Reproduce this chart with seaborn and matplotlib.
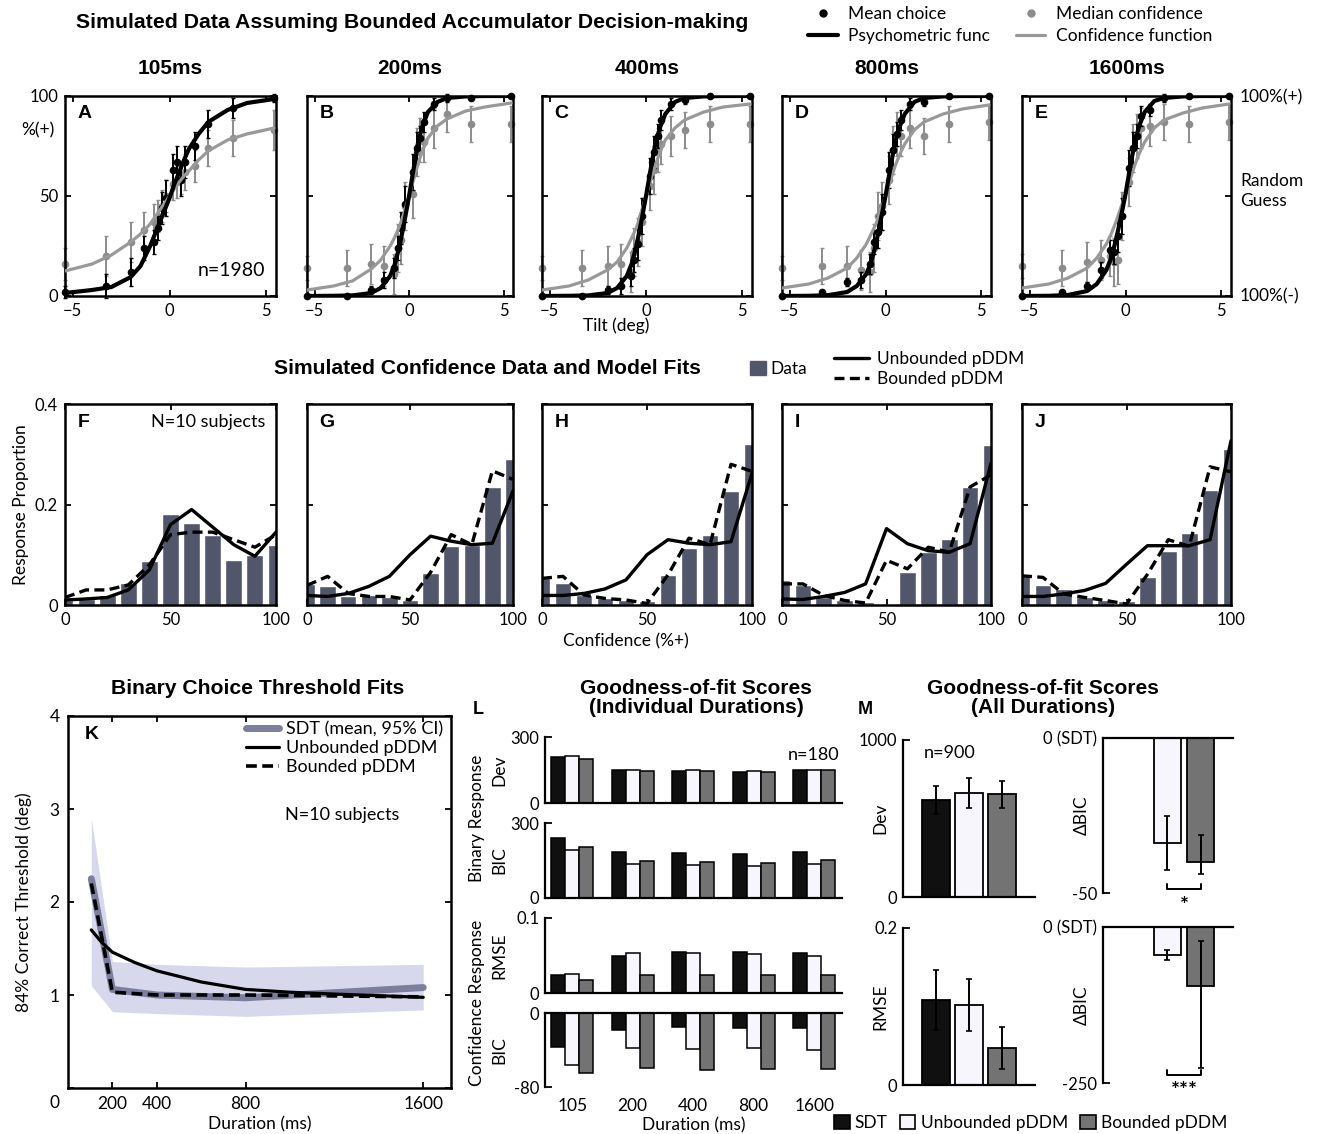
import matplotlib
matplotlib.use('Agg')
import pandas as pd
import matplotlib.pyplot as plt
import seaborn as sns
from matplotlib.lines import Line2D
from matplotlib.patches import Patch

# ---------------- data ----------------
durations = ['105ms', '200ms', '400ms', '800ms', '1600ms']
top_letters = ['A', 'B', 'C', 'D', 'E']
mid_letters = ['F', 'G', 'H', 'I', 'J']

tilt = [-5.4, -3.3, -2.0, -1.3, -0.8, -0.6, -0.4, -0.2, 0.2, 0.4, 0.6, 0.8, 1.3, 2.0, 3.3, 5.4]
mean_choice = [
    [2, 5, 12, 24, 27, 34, 44, 49, 63, 67, 58, 67, 75, 86, 94, 99],
    [0, 0, 3, 8, 14, 24, 34, 46, 62, 74, 79, 87, 96, 99, 99, 100],
    [0, 0, 3, 5, 10, 18, 26, 40, 60, 72, 80, 88, 96, 98, 100, 100],
    [0, 2, 7, 8, 16, 27, 32, 42, 63, 73, 81, 88, 96, 97, 100, 100],
    [0, 2, 5, 13, 23, 22, 30, 40, 64, 74, 80, 90, 93, 99, 100, 100],
]
choice_err = [
    [3, 6, 7, 6, 6, 6, 8, 9, 8, 8, 8, 8, 7, 7, 5, 2],
    [1, 1, 2, 4, 5, 6, 8, 9, 9, 8, 6, 5, 3, 2, 1, 1],
    [1, 1, 2, 4, 5, 6, 8, 9, 9, 8, 6, 5, 3, 2, 1, 1],
    [1, 1, 2, 4, 5, 6, 8, 9, 9, 8, 6, 5, 3, 2, 1, 1],
    [1, 1, 2, 4, 5, 6, 8, 9, 9, 8, 6, 5, 3, 2, 1, 1],
]
median_conf = [
    [16, 20, 27, 33, 37, 40, 45, 50, 56, 57, 59, 62, 65, 74, 79, 83],
    [14, 14, 16, 15, 11, 24, 28, 45, 51, 72, 78, 77, 84, 91, 86, 86],
    [14, 14, 15, 16, 12, 22, 27, 37, 55, 63, 73, 76, 80, 83, 86, 86],
    [14, 15, 15, 13, 12, 24, 40, 45, 58, 73, 81, 80, 84, 80, 86, 87],
    [15, 14, 17, 18, 20, 17, 18, 40, 57, 74, 80, 84, 85, 87, 86, 87],
]
conf_err = [
    [8, 10, 10, 9, 9, 8, 8, 8, 8, 8, 8, 9, 8, 9, 9, 10],
    [6, 9, 10, 10, 10, 12, 12, 12, 12, 12, 11, 10, 10, 9, 9, 9],
    [6, 9, 10, 10, 10, 12, 12, 12, 12, 12, 11, 10, 10, 9, 9, 9],
    [6, 9, 10, 10, 10, 12, 12, 12, 12, 12, 11, 10, 10, 9, 9, 9],
    [6, 9, 10, 10, 10, 12, 12, 12, 12, 12, 11, 10, 10, 9, 9, 9],
]
tilt_fit = [-5.4, -4, -3, -2, -1.5, -1, -0.75, -0.5, -0.25, 0, 0.25, 0.5, 0.75, 1, 1.5, 2, 3, 4, 5.4]
psych_fit = [
    [1.5, 3, 4.5, 9.5, 15, 25, 31, 37, 43, 49, 56, 62, 68, 73.5, 81, 87, 93, 96.5, 98.5],
    [0, 0.1, 0.3, 1.5, 4, 10, 16, 25, 37, 50, 64, 78, 86, 92, 97, 99, 99.8, 100, 100],
    [0, 0.1, 0.3, 1.5, 4, 10, 16, 25, 37, 50, 64, 77, 85, 91, 97, 99, 99.8, 100, 100],
    [0, 0.1, 0.4, 2, 5, 11, 17, 26, 38, 50, 64, 77, 85, 91, 97, 99, 99.8, 100, 100],
    [0, 0.1, 0.5, 2.5, 6, 13, 19, 28, 39, 51, 65, 78, 86, 92, 97.5, 99, 99.8, 100, 100],
]
conf_fit = [
    [12.5, 16, 20.5, 27, 31, 36, 39.5, 43, 46.5, 50, 53.5, 57, 60, 62.5, 68, 72.5, 78, 81, 84],
    [3, 5, 7.5, 13.5, 18, 25, 29.5, 35, 42, 50, 58.5, 67, 73.5, 79, 85, 88.5, 92.5, 94.5, 96.5],
    [3, 5, 8, 13, 17, 24, 29, 34, 42, 50, 58, 66, 72.5, 78, 84, 88, 92, 94.5, 96],
    [4, 6, 9, 14, 19, 26, 31, 36, 43, 50, 57.5, 65, 71, 76, 83, 87, 91, 93.5, 95.5],
    [4, 6, 9, 14, 19, 26, 31, 37, 44, 51, 58.5, 66, 72, 77, 84, 88, 91.5, 94, 96],
]

conf_bins = [0, 10, 20, 30, 40, 50, 60, 70, 80, 90, 100]
data_hist = [
    [0.010, 0.012, 0.020, 0.043, 0.087, 0.181, 0.163, 0.140, 0.090, 0.100, 0.120],
    [0.041, 0.037, 0.017, 0.019, 0.015, 0.010, 0.063, 0.117, 0.119, 0.235, 0.290],
    [0.053, 0.043, 0.019, 0.013, 0.010, 0.007, 0.060, 0.114, 0.139, 0.226, 0.320],
    [0.050, 0.040, 0.015, 0.009, 0.005, 0.000, 0.066, 0.106, 0.132, 0.235, 0.318],
    [0.058, 0.039, 0.032, 0.015, 0.009, 0.007, 0.055, 0.107, 0.143, 0.229, 0.311],
]
unbounded_fit = [
    [0.010, 0.012, 0.015, 0.030, 0.070, 0.160, 0.190, 0.155, 0.120, 0.097, 0.145],
    [0.019, 0.017, 0.023, 0.037, 0.057, 0.100, 0.137, 0.127, 0.120, 0.123, 0.227],
    [0.019, 0.019, 0.023, 0.032, 0.050, 0.100, 0.130, 0.123, 0.120, 0.126, 0.262],
    [0.012, 0.011, 0.017, 0.025, 0.042, 0.152, 0.122, 0.108, 0.105, 0.122, 0.282],
    [0.017, 0.017, 0.022, 0.029, 0.043, 0.081, 0.118, 0.118, 0.118, 0.130, 0.327],
]
bounded_fit = [
    [0.015, 0.030, 0.030, 0.040, 0.080, 0.140, 0.145, 0.145, 0.130, 0.115, 0.140],
    [0.039, 0.057, 0.023, 0.017, 0.017, 0.010, 0.065, 0.140, 0.120, 0.267, 0.250],
    [0.053, 0.057, 0.020, 0.013, 0.010, 0.003, 0.060, 0.133, 0.120, 0.280, 0.266],
    [0.042, 0.042, 0.019, 0.009, 0.004, 0.089, 0.072, 0.115, 0.105, 0.235, 0.259],
    [0.058, 0.055, 0.022, 0.015, 0.009, 0.002, 0.061, 0.130, 0.117, 0.275, 0.265],
]

durations_ms = [105, 200, 400, 800, 1600]
sdt_mean = [2.25, 1.06, 1.00, 0.97, 1.08]
sdt_lo = [1.10, 0.82, 0.80, 0.77, 0.84]
sdt_hi = [2.90, 1.36, 1.33, 1.30, 1.33]
unb_x = [105, 150, 200, 300, 400, 600, 800, 1000, 1200, 1600]
unb_y = [1.70, 1.57, 1.46, 1.35, 1.26, 1.14, 1.06, 1.03, 1.01, 0.975]
bnd_y = [2.20, 1.03, 1.00, 1.00, 0.98]

models = ['SDT', 'Unbounded pDDM', 'Bounded pDDM']
l_durations = ['105', '200', '400', '800', '1600']
dev_sdt = [210, 150, 147, 142, 150]
dev_unb = [212, 152, 148, 145, 150]
dev_bnd = [198, 147, 147, 143, 150]
bic_sdt = [240, 183, 180, 176, 184]
bic_unb = [193, 137, 133, 129, 137]
bic_bnd = [204, 147, 143, 140, 151]
rmse_sdt = [0.0236, 0.050, 0.0547, 0.0547, 0.053]
rmse_unb = [0.0258, 0.053, 0.054, 0.052, 0.050]
rmse_bnd = [0.0178, 0.0236, 0.0236, 0.024, 0.024]
cbic_sdt = [-37, -18, -15, -16, -16]
cbic_unb = [-56, -38, -39, -38, -40]
cbic_bnd = [-65, -59, -62, -60, -60]

m_dev = [617, 660, 653]
m_dev_err = [90, 95, 85]
m_rmse = [0.108, 0.102, 0.047]
m_rmse_err = [0.038, 0.033, 0.027]
dbic_binary = [0, -33.9, -40.1]
dbic_binary_lo = [0, 8.6, 3.7]
dbic_binary_hi = [0, 8.6, 8.9]
dbic_conf = [0, -44.3, -95]
dbic_conf_lo = [0, 8, 131]
dbic_conf_hi = [0, 8, 72]

# ---------------- style ----------------
sns.set_theme(style='white')
plt.rcParams['font.family'] = ['Lato', 'DejaVu Sans']
plt.rcParams.update({
    'axes.edgecolor': 'black', 'text.color': 'black', 'axes.labelcolor': 'black',
    'xtick.color': 'black', 'ytick.color': 'black', 'font.size': 12,
})
BOLD = dict(family=['Liberation Sans', 'DejaVu Sans'], weight='bold')

bar_col = '#52566a'
gray_pt = '#8c8c8c'
gray_line = '#999999'
model_colors = {'SDT': '#101010', 'Unbounded pDDM': '#f6f6fc', 'Bounded pDDM': '#737373'}

W, H = 1317, 1134
fig = plt.figure(figsize=(W / 100, H / 100), dpi=100)


def add_ax(x0, y0, x1, y1):
    return fig.add_axes([x0 / W, 1 - y1 / H, (x1 - x0) / W, (y1 - y0) / H])


def ftext(x, y, s, **kw):
    kw.setdefault('ha', 'center')
    kw.setdefault('va', 'center')
    fig.text(x / W, 1 - y / H, s, **kw)


def box_style(ax):
    for s in ax.spines.values():
        s.set_visible(True)
        s.set_linewidth(1.8)
        s.set_color('black')
    ax.tick_params(direction='in', top=True, right=True, bottom=True, left=True,
                   length=4, width=1.3, labelsize=12, pad=5)


cols = [(65, 276), (307, 513), (542, 752), (782, 991), (1022, 1231)]

# ---------------- row 1: psychometric / confidence functions ----------------
for i, (x0, x1) in enumerate(cols):
    ax = add_ax(x0, 96, x1, 296)
    ax.errorbar(tilt, median_conf[i], yerr=conf_err[i], fmt='o', color=gray_pt, ms=4.5,
                elinewidth=1.4, capsize=1.5, zorder=2, clip_on=False)
    ax.errorbar(tilt, mean_choice[i], yerr=choice_err[i], fmt='o', color='black', ms=4.5,
                elinewidth=1.4, capsize=1.5, zorder=3, clip_on=False)
    sns.lineplot(x=tilt_fit, y=conf_fit[i], ax=ax, color=gray_line, lw=2.3, zorder=4)
    sns.lineplot(x=tilt_fit, y=psych_fit[i], ax=ax, color='black', lw=3, zorder=5)
    ax.set_xlim(-5.4, 5.5)
    ax.set_ylim(0, 100)
    ax.set_xticks([-5, 0, 5])
    ax.set_xticklabels(['\u22125', '0', '5'])
    ax.set_yticks([0, 50, 100])
    box_style(ax)
    if i > 0:
        ax.set_yticklabels([])
    ax.text(0.06, 0.91, top_letters[i], transform=ax.transAxes, fontsize=14, va='center', **BOLD)
    ftext((x0 + x1) / 2, 68, durations[i], fontsize=15, **BOLD)

ftext(412, 23, 'Simulated Data Assuming Bounded Accumulator Decision-making', fontsize=15.3, **BOLD)
ftext(265, 271, 'n=1980', ha='right', fontsize=14)
ftext(38, 130, '%(+)', fontsize=12.5)
ftext(616, 326, 'Tilt (deg)', fontsize=12.5)
ftext(1240, 97, '100%(+)', ha='left', fontsize=12.5)
ftext(1240, 191, 'Random\nGuess', ha='left', fontsize=12.5, linespacing=1.3)
ftext(1240, 296, '100%(-)', ha='left', fontsize=12.5)

top_handles = [
    Line2D([], [], marker='o', color='black', ls='none', ms=5),
    Line2D([], [], color='black', lw=3),
    Line2D([], [], marker='o', color=gray_pt, ls='none', ms=5),
    Line2D([], [], color=gray_line, lw=2.3),
]
fig.legend(top_handles, ['Mean choice', 'Psychometric func', 'Median confidence', 'Confidence function'],
           ncol=2, loc='upper left', bbox_to_anchor=(808 / W, 1 - 6 / H), frameon=False,
           fontsize=12.5, handlelength=1.7, labelspacing=0.35, columnspacing=1.5,
           handletextpad=0.6, borderpad=0, borderaxespad=0)

# ---------------- row 2: confidence histograms ----------------
for i, (x0, x1) in enumerate(cols):
    ax = add_ax(x0, 404, x1, 605)
    sns.barplot(x=conf_bins, y=data_hist[i], ax=ax, native_scale=True, width=0.8,
                color=bar_col, saturation=1, errorbar=None, zorder=1)
    sns.lineplot(x=conf_bins, y=unbounded_fit[i], ax=ax, color='black', lw=2.4, zorder=3)
    sns.lineplot(x=conf_bins, y=bounded_fit[i], ax=ax, color='black', lw=2.4,
                 linestyle=(0, (3, 1.6)), zorder=3)
    ax.set_xlim(0, 100)
    ax.set_ylim(0, 0.4)
    ax.set_xticks([0, 50, 100])
    ax.set_xticklabels(['0', '50', '100'])
    ax.set_yticks([0, 0.2, 0.4])
    ax.set_yticklabels(['0', '0.2', '0.4'])
    box_style(ax)
    ax.set_xlabel('')
    ax.set_ylabel('')
    if i > 0:
        ax.set_yticklabels([])
    else:
        ax.set_ylabel('Response Proportion', fontsize=12.5, labelpad=4)
        ax.text(0.95, 0.91, 'N=10 subjects', transform=ax.transAxes, ha='right', va='center', fontsize=13)
    ax.text(0.06, 0.91, mid_letters[i], transform=ax.transAxes, fontsize=14, va='center', **BOLD)

ftext(487, 369, 'Simulated Confidence Data and Model Fits', fontsize=15.2, **BOLD)
ftext(626, 641, 'Confidence (%+)', fontsize=12.5)
fig.legend([Patch(color=bar_col)], ['Data'], loc='center left', bbox_to_anchor=(750 / W, 1 - 369 / H),
           frameon=False, fontsize=12.5, handlelength=0.9, handleheight=0.9, handletextpad=0.3,
           borderpad=0, borderaxespad=0)
fig.legend([Line2D([], [], color='black', lw=2.4), Line2D([], [], color='black', lw=2.4, ls=(0, (3, 1.6)))],
           ['Unbounded pDDM', 'Bounded pDDM'], loc='center left', bbox_to_anchor=(834 / W, 1 - 369 / H),
           frameon=False, fontsize=12.5, handlelength=2.0, handletextpad=0.5, labelspacing=0.25,
           borderpad=0, borderaxespad=0)

# ---------------- K: thresholds ----------------
axk = add_ax(68, 716, 451, 1088)
axk.fill_between(durations_ms, sdt_lo, sdt_hi, color='#d2d2ea', alpha=0.85, lw=0, zorder=1)
sns.lineplot(x=durations_ms, y=sdt_mean, ax=axk, color='#7b7e9c', lw=5, zorder=2)
sns.lineplot(x=unb_x, y=unb_y, ax=axk, color='black', lw=2.3, zorder=3)
sns.lineplot(x=durations_ms, y=bnd_y, ax=axk, color='black', lw=2.6, linestyle=(0, (3, 1.5)), zorder=4)
axk.set_xlim(0, 1725)
axk.set_ylim(0, 4)
axk.set_xticks([200, 400, 800, 1600])
axk.set_yticks([0, 1, 2, 3, 4])
axk.set_yticklabels(['', '1', '2', '3', '4'])
box_style(axk)
axk.tick_params(labelsize=12.5, pad=6)
axk.set_ylabel('84% Correct Threshold (deg)', fontsize=12.5)
axk.yaxis.set_label_coords(-0.095, 0.5)
axk.set_xlabel('Duration (ms)', fontsize=12.5, labelpad=3)
axk.text(0.045, 0.95, 'K', transform=axk.transAxes, fontsize=14, va='center', **BOLD)
axk.text(0.567, 0.735, 'N=10 subjects', transform=axk.transAxes, va='center', fontsize=13)
axk.legend([Line2D([], [], color='#7b7e9c', lw=5), Line2D([], [], color='black', lw=2.3),
            Line2D([], [], color='black', lw=2.6, ls=(0, (3, 1.5)))],
           ['SDT (mean, 95% CI)', 'Unbounded pDDM', 'Bounded pDDM'],
           loc='upper left', bbox_to_anchor=(0.465, 0.985), frameon=False, fontsize=13,
           handlelength=1.8, handletextpad=0.4, labelspacing=0.15, borderpad=0, borderaxespad=0)
ftext(55, 1103, '0', fontsize=12.5)
ftext(258, 689, 'Binary Choice Threshold Fits', fontsize=15.2, **BOLD)

# ---------------- L: goodness of fit per duration ----------------
l_sets = [
    ('Dev', dev_sdt, dev_unb, dev_bnd, (0, 300), ['0', '300'], (737, 803)),
    ('BIC', bic_sdt, bic_unb, bic_bnd, (0, 300), ['0', '300'], (823, 898)),
    ('RMSE', rmse_sdt, rmse_unb, rmse_bnd, (0, 0.1), ['0', '0.1'], (918, 993)),
    ('BIC', cbic_sdt, cbic_unb, cbic_bnd, (-80, 0), ['-80', '0'], (1013, 1087)),
]
for j, (lab, s_, u_, b_, yl, ytl, (y0, y1)) in enumerate(l_sets):
    ax = add_ax(545, y0, 842, y1)
    df = pd.DataFrame({'duration': l_durations * 3,
                       'model': [m for m in models for _ in l_durations],
                       'value': s_ + u_ + b_})
    sns.barplot(data=df, x='duration', y='value', hue='model', hue_order=models, palette=model_colors,
                edgecolor='black', linewidth=1.1, width=0.69, saturation=1, errorbar=None,
                legend=False, ax=ax)
    ax.set_xlim(-0.45, 4.46)
    ax.set_ylim(*yl)
    ax.set_yticks(list(yl))
    ax.set_yticklabels(ytl)
    for s in ax.spines.values():
        s.set_linewidth(1.6)
        s.set_color('black')
    ax.spines['right'].set_visible(False)
    ax.spines['left'].set_visible(True)
    if j < 3:
        ax.spines['top'].set_visible(False)
        ax.spines['bottom'].set_visible(True)
    else:
        ax.spines['top'].set_visible(True)
        ax.spines['bottom'].set_visible(False)
    ax.tick_params(axis='y', direction='in', left=True, length=5, width=1.3, labelsize=12, pad=4)
    ax.tick_params(axis='x', bottom=False, length=0, labelsize=12.5, pad=8)
    ax.set_xlabel('')
    ax.set_ylabel(lab, fontsize=12.5)
    ax.yaxis.set_label_coords(-0.125, 0.5)
    if j < 3:
        ax.set_xticklabels([])
    else:
        ax.set_xlabel('Duration (ms)', fontsize=12.5, labelpad=2)
    if j == 0:
        ax.text(0.99, 0.72, 'n=180', transform=ax.transAxes, ha='right', va='center', fontsize=13)

ftext(477, 818, 'Binary Response', rotation=90, fontsize=12.5)
ftext(477, 1003, 'Confidence Response', rotation=90, fontsize=12.5)
ftext(478, 709, 'L', fontsize=13, **BOLD)
ftext(696, 698, 'Goodness-of-fit Scores\n(Individual Durations)', fontsize=15, linespacing=1.0, **BOLD)

# ---------------- M: goodness of fit, all durations ----------------
m_sets = [
    ('Dev', m_dev, [m_dev_err, m_dev_err], (0, 1000), ['0', '1000'], (903, 740, 1035, 897)),
    ('RMSE', m_rmse, [m_rmse_err, m_rmse_err], (0, 0.2), ['0', '0.2'], (903, 928, 1035, 1085)),
]
for lab, vals, err, yl, ytl, (x0, y0, x1, y1) in m_sets:
    ax = add_ax(x0, y0, x1, y1)
    sns.barplot(x=models, y=vals, hue=models, palette=model_colors, edgecolor='black', linewidth=1.3,
                width=0.85, saturation=1, errorbar=None, legend=False, ax=ax)
    ax.errorbar([0, 1, 2], vals, yerr=err, fmt='none', ecolor='black', elinewidth=1.4, capsize=2.5,
                capthick=1.2, zorder=5)
    ax.set_xlim(-1, 3)
    ax.set_ylim(*yl)
    ax.set_yticks(list(yl))
    ax.set_yticklabels(ytl)
    for s in ax.spines.values():
        s.set_linewidth(1.6)
        s.set_color('black')
    ax.spines['top'].set_visible(False)
    ax.spines['right'].set_visible(False)
    ax.spines['left'].set_visible(True)
    ax.spines['bottom'].set_visible(True)
    ax.tick_params(axis='y', direction='in', left=True, length=5, width=1.3, labelsize=12, pad=4)
    ax.tick_params(axis='x', bottom=False, labelbottom=False)
    ax.set_ylabel(lab, fontsize=12.5)
    ax.yaxis.set_label_coords(-0.11, 0.5)
    if lab == 'Dev':
        ax.text(0.35, 0.92, 'n=900', transform=ax.transAxes, ha='center', va='center', fontsize=13)

d_sets = [
    (dbic_binary, dbic_binary_lo, dbic_binary_hi, -50, '*', (1103, 738, 1233, 893), (-47, -48.7, -51)),
    (dbic_conf, dbic_conf_lo, dbic_conf_hi, -250, '***', (1103, 927, 1233, 1083), (-229, -237, -246)),
]
for vals, lo, hi, ymin, star, (x0, y0, x1, y1), (tk, br, sy) in d_sets:
    ax = add_ax(x0, y0, x1, y1)
    sns.barplot(x=models, y=vals, hue=models, palette=model_colors, edgecolor='black', linewidth=1.3,
                width=0.8, saturation=1, errorbar=None, legend=False, ax=ax)
    ax.errorbar([1, 2], vals[1:], yerr=[lo[1:], hi[1:]], fmt='none', ecolor='black',
                elinewidth=1.4, capsize=2, capthick=1.2, zorder=5)
    ax.plot([1, 1, 2, 2], [tk, br, br, tk], color='black', lw=1.4, clip_on=False)
    ax.text(1.5, sy, star, ha='center', va='top', fontsize=15, fontweight='bold')
    ax.set_xlim(-0.9, 2.95)
    ax.set_ylim(ymin, 0)
    ax.set_yticks([ymin, 0])
    ax.set_yticklabels([str(ymin), '0 (SDT)'])
    for s in ax.spines.values():
        s.set_linewidth(1.6)
        s.set_color('black')
    ax.spines['bottom'].set_visible(False)
    ax.spines['right'].set_visible(False)
    ax.spines['left'].set_visible(True)
    ax.spines['top'].set_visible(True)
    ax.tick_params(axis='y', direction='in', left=True, length=5, width=1.3, labelsize=12, pad=4)
    ax.tick_params(axis='x', bottom=False, labelbottom=False)
    ax.set_ylabel('\u0394BIC', fontsize=12.5)
    ax.yaxis.set_label_coords(-0.1, 0.5)

ftext(865, 709, 'M', fontsize=13, **BOLD)
ftext(1043, 698, 'Goodness-of-fit Scores\n(All Durations)', fontsize=15, linespacing=1.0, **BOLD)
fig.legend([Patch(facecolor=model_colors[m], edgecolor='black', lw=1.2) for m in models], models,
           ncol=3, loc='center left', bbox_to_anchor=(834 / W, 1 - 1123 / H), frameon=False,
           fontsize=12.5, handlelength=0.9, handleheight=0.9, handletextpad=0.3, columnspacing=0.7,
           borderpad=0, borderaxespad=0)

fig.savefig('out.png', dpi=100)
